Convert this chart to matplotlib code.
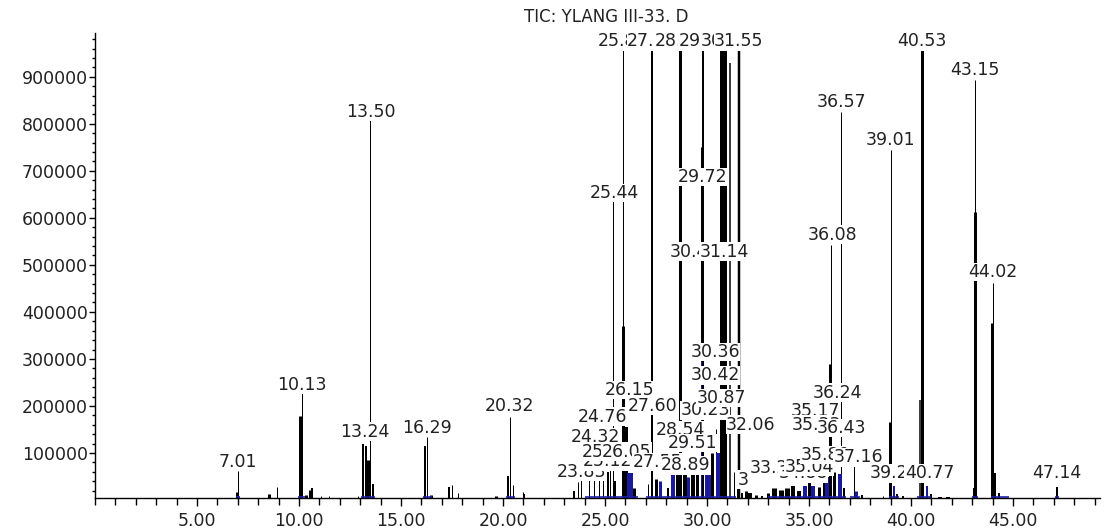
import numpy as np
import matplotlib as mpl
mpl.use("Agg")
import matplotlib.pyplot as plt
from matplotlib.ticker import MultipleLocator, FixedLocator

plt.rcParams["font.family"] = ["DejaVu Sans"]

title = "TIC: YLANG III-33. D"

# peaks: retention time (min), abundance, stroke width (px)
peak_rt = [6.95, 7.01, 8.55, 8.9, 10.05, 10.13, 10.35, 10.55, 10.65, 11.1, 11.45,
           12.9, 13.15, 13.26, 13.38, 13.50, 13.62, 16.17, 16.29, 16.45, 17.35, 17.48,
           17.8, 19.65, 20.25, 20.32, 20.48, 21.0, 21.05,
           23.5, 23.65, 23.83, 24.2, 24.45, 24.7, 24.9, 25.25, 25.15, 25.39, 25.5,
           25.88, 25.9, 26.05, 26.2, 26.4, 27.1, 27.25, 27.30, 27.5, 27.7, 28.1, 28.35,
           28.55, 28.68, 28.9, 29.05, 29.3, 29.5, 29.70, 29.72, 29.82, 29.95, 30.1,
           30.25, 30.45, 30.55, 30.75, 30.9, 31.1, 31.3, 31.55, 31.45, 31.7, 31.9,
           32.1, 32.4, 32.7, 33.0, 33.3, 33.6, 33.9, 34.2, 34.5, 34.8, 35.0, 35.2,
           35.5, 35.75, 35.9, 36.08, 36.02, 36.2, 36.57, 36.5, 36.7, 37.2, 37.3, 37.6,
           38.0, 38.6, 39.01, 38.98, 39.15, 39.3, 39.6, 39.85, 40.45, 40.53, 40.8, 41.0,
           41.4, 41.8, 43.10, 43.15, 43.12, 43.35, 43.98, 44.02, 44.1, 44.3, 45.0,
           45.4, 47.14]
peak_h = [18000, 62000, 12000, 27000, 178000, 229000, 10000, 22000, 25000, 8000, 9000,
          8000, 120000, 115000, 85000, 807000, 35000, 115000, 134000, 10000, 28000, 32000,
          14000, 8000, 52000, 176000, 33000, 18000, 12000,
          20000, 38000, 50000, 48000, 50000, 55000, 45000, 121000, 60000, 638000, 40000,
          1200000, 370000, 155000, 57000, 25000, 35000, 700000, 1200000, 45000, 40000,
          25000, 55000,
          55000, 1200000, 55000, 50000, 55000, 60000, 751000, 320000, 1200000, 70000,
          90000,
          100000, 150000, 100000, 1200000, 1200000, 930000, 60000, 1200000, 25000,
          15000, 20000,
          15000, 10000, 8000, 15000, 25000, 22000, 25000, 30000, 20000, 30000, 40000,
          30000,
          28000, 45000, 50000, 543000, 290000, 60000, 826000, 55000, 25000, 85000,
          20000, 10000,
          5000, 8000, 745000, 166000, 30000, 12000, 8000, 5000, 213000, 1200000, 30000,
          12000,
          6000, 6000, 25000, 894000, 613000, 5000, 377000, 462000, 57000, 15000, 5000,
          3000, 28000]
peak_w = [3, 1, 3, 1, 3, 1, 3, 3, 2, 1, 1,
          1, 2, 2, 3, 1, 2, 2, 1, 3, 2, 1,
          1, 3, 2, 1, 1, 1, 2,
          2, 1, 1, 1, 1, 1, 1, 1, 2, 1, 2,
          1, 3, 4, 6, 3, 1, 1, 2, 3, 3, 2, 4,
          3, 3, 4, 3, 4, 3, 1, 1, 2, 3, 4,
          3, 1, 4, 5, 4, 1.5, 1, 2.5, 1, 2, 3,
          4, 3, 2, 3, 5, 5, 5, 4, 4, 4, 3, 4,
          3, 3, 4, 1, 3, 3, 1, 4, 2, 1, 3, 2,
          1, 1, 1, 3, 2, 2, 2, 2, 1.5, 3, 2, 2,
          4, 4, 2, 1, 3, 2, 3, 1, 2, 2, 1,
          1, 2]
navy_peaks = [26.2, 27.7, 28.35, 29.05, 29.72, 29.95, 30.1, 30.55, 34.8, 35.2, 35.9,
              36.5, 37.3, 39.15, 40.8]

# integration baselines (start, end) in minutes
base_spans = [(6.9, 7.1), (9.95, 10.3), (13.05, 13.7), (16.1, 16.5), (20.15, 20.6),
              (24.0, 26.6), (27.0, 31.4), (33.0, 36.8), (37.0, 37.5), (38.9, 39.4),
              (40.3, 41.0), (43.0, 43.3), (43.9, 44.8), (47.05, 47.25)]

# peak labels: text, retention time, label height
lab_text = ["7.01", "10.13", "13.50", "13.24", "16.29", "20.32",
            "23.83", "25.12", "24.32", "25.05", "26.05", "24.76", "26.15",
            "27.55", "28.89", "28.54", "29.51", "27.60", "30.23", "30.87", "30.42",
            "30.36", "32.06", "3", "25.44", "29.72", "30.40", "31.14",
            "25.87", "27.30", "28.65", "29.82", "30.90", "31.55",
            "33.21", "34.88", "35.04", "35.17", "35.33", "36.24", "36.43", "35.80",
            "37.16", "36.08", "36.57", "39.01", "39.23", "40.77", "40.53", "43.15",
            "44.02", "47.14"]
lab_rt = [7.01, 10.13, 13.50, 13.24, 16.29, 20.32,
          23.83, 25.1, 24.55, 25.05, 26.05, 24.88, 26.2,
          27.55, 28.95, 28.7, 29.3, 27.35, 29.9, 30.7, 30.4,
          30.4, 32.15, 31.75, 25.44, 29.8, 29.4, 30.85,
          25.87, 27.30, 28.65, 29.82, 30.90, 31.55,
          33.3, 34.7, 35.0, 35.3, 35.35, 36.4, 36.6, 35.8,
          37.4, 36.15, 36.6, 39.0, 39.2, 40.9, 40.53, 43.15,
          44.02, 47.14]
lab_y = [81000, 245000, 826000, 145000, 153000, 200000,
         60000, 82000, 134000, 103000, 103000, 177000, 234000,
         81000, 74000, 149000, 121000, 200000, 191000, 217000, 265000,
         315000, 160000, 43000, 653000, 687000, 528000, 528000,
         975000, 975000, 975000, 975000, 975000, 975000,
         68000, 57000, 70000, 190000, 160000, 228000, 153000, 96000,
         91000, 564000, 847000, 766000, 57000, 57000, 975000, 915000,
         485000, 57000]

fig = plt.figure(figsize=(11.08, 5.28), dpi=100)
ax = fig.add_axes([95 / 1108, 30 / 528, 1005 / 1108, 465 / 528])
ax.set_xlim(0, 49.26)
ax.set_ylim(4300, 993000)

for rt, h, w in zip(peak_rt, peak_h, peak_w):
    col = "#1a1a9a" if rt in navy_peaks else "black"
    ax.vlines(rt, 0, h, colors=col, lw=w * 0.72, zorder=2)

for s, e in base_spans:
    ax.hlines(5500, s, e, colors="#2020b0", lw=1.2, zorder=2.5)

for t, rt, y in zip(lab_text, lab_rt, lab_y):
    ax.text(rt, y, t, ha="center", va="center", fontsize=12.5, color="#222222",
            zorder=3, bbox=dict(facecolor="white", edgecolor="none", pad=0.3))

for side in ["top", "right"]:
    ax.spines[side].set_visible(False)
ax.spines["left"].set_linewidth(1.0)
ax.spines["bottom"].set_linewidth(1.0)

ax.xaxis.set_major_locator(FixedLocator([5, 10, 15, 20, 25, 30, 35, 40, 45]))
ax.xaxis.set_minor_locator(MultipleLocator(1))
ax.set_xticklabels([f"{v:.2f}" for v in [5, 10, 15, 20, 25, 30, 35, 40, 45]])
ax.yaxis.set_major_locator(FixedLocator(np.arange(100000, 900001, 100000)))
ax.yaxis.set_minor_locator(MultipleLocator(20000))
ax.set_yticklabels([str(v) for v in range(100000, 900001, 100000)])
ax.tick_params(axis="x", which="major", length=6, width=1, labelsize=12.5,
               pad=4, labelcolor="#222222")
ax.tick_params(axis="x", which="minor", length=5, width=1)
ax.tick_params(axis="y", which="major", length=4, width=1, labelsize=12.5,
               pad=1, labelcolor="#222222")
ax.tick_params(axis="y", which="minor", length=2, width=1)

fig.text(606 / 1108, 1 - 17 / 528, title, ha="center", va="center", fontsize=12,
         color="#222222")

fig.savefig("out.png", dpi=100)
